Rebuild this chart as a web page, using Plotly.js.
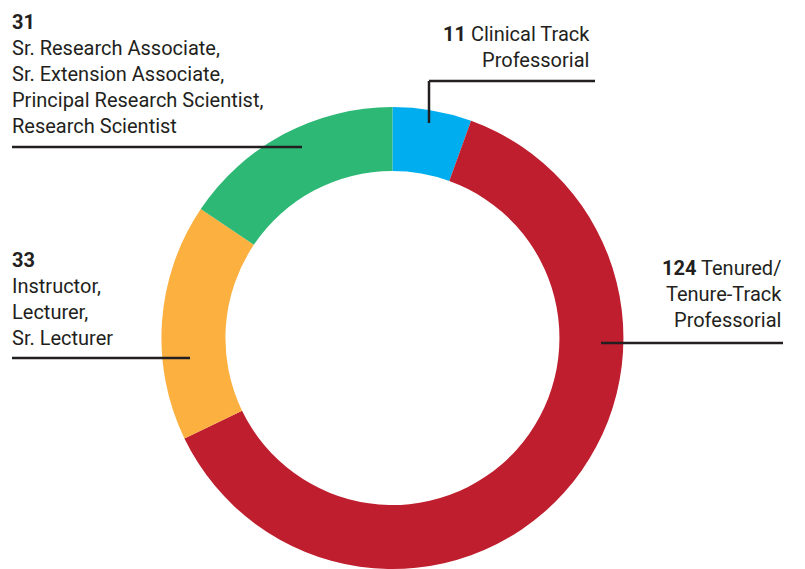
<!DOCTYPE html>
<html>
<head>
<meta charset="utf-8">
<script src="https://cdn.plot.ly/plotly-3.0.1.min.js"></script>
<style>
html,body{margin:0;padding:0;background:#fff;overflow:hidden;}
#chart{width:805px;height:569px;}
</style>
</head>
<body>
<div id="chart"></div>
<script>
// Data
const categories = ["Clinical Track Professorial", "Tenured/Tenure-Track Professorial", "Instructor, Lecturer, Sr. Lecturer", "Sr. Research Associate, Sr. Extension Associate, Principal Research Scientist, Research Scientist"];
const counts = [11, 124, 33, 31];
const colors = ["#00AEEF", "#BE1E2D", "#FBB040", "#2DB875"];
const labelTexts = [
  "<b>" + counts[0] + "</b> Clinical Track<br>Professorial",
  "<b>" + counts[1] + "</b> Tenured/<br>Tenure-Track<br>Professorial",
  "<b>" + counts[2] + "</b><br>Instructor,<br>Lecturer,<br>Sr. Lecturer",
  "<b>" + counts[3] + "</b><br>Sr. Research Associate,<br>Sr. Extension Associate,<br>Principal Research Scientist,<br>Research Scientist"
];

const W = 805, H = 569;
const px = x => x / W;
const py = y => 1 - y / H;
const FONT = "'Liberation Sans Narrow', 'Arial Narrow', 'Roboto', sans-serif";
const INK = "#231f20";

const trace = {
  type: "pie",
  values: counts,
  labels: categories,
  marker: {colors: colors, line: {width: 0}},
  hole: 0.723,
  sort: false,
  direction: "clockwise",
  rotation: 0,
  textinfo: "none",
  hoverinfo: "label+value",
  showlegend: false,
  domain: {x: [0.15, 0.825], y: [0, py(107)]}
};

// label placement (left/right anchor x, top y in px)
const labelPos = [
  {x: 591, y: 21, xa: "right", align: "right"},
  {x: 783, y: 255, xa: "right", align: "right"},
  {x: 11, y: 247, xa: "left", align: "left"},
  {x: 11, y: 9, xa: "left", align: "left"}
];

const annotations = labelTexts.map((t, i) => ({
  xref: "paper", yref: "paper",
  x: px(labelPos[i].x), y: py(labelPos[i].y),
  xanchor: labelPos[i].xa, yanchor: "top",
  align: labelPos[i].align,
  text: t, showarrow: false,
  font: {family: FONT, size: 20, color: INK},
  borderpad: 0
}));

const seg = (x0, y0, x1, y1) => ({
  type: "line", xref: "paper", yref: "paper",
  x0: px(x0), y0: py(y0), x1: px(x1), y1: py(y1),
  line: {color: INK, width: 2.5}
});

const shapes = [
  seg(429, 81, 595, 81), seg(429, 81, 429, 123),
  seg(601, 343, 783, 343),
  seg(12, 358, 190, 358),
  seg(12, 147, 302, 147)
];

Plotly.newPlot("chart", [trace], {
  width: W, height: H,
  margin: {l: 0, r: 0, t: 0, b: 0},
  paper_bgcolor: "#fff", plot_bgcolor: "#fff",
  annotations: annotations,
  shapes: shapes
}, {staticPlot: true});
</script>
</body>
</html>
